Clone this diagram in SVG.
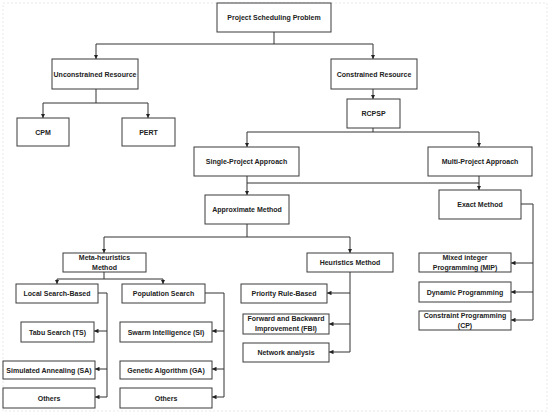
<svg xmlns="http://www.w3.org/2000/svg" width="550" height="414" viewBox="0 0 550 414">
<defs>
<marker id="ah" viewBox="0 0 6 6" refX="6" refY="3" markerWidth="4.5" markerHeight="4.5" orient="auto" markerUnits="userSpaceOnUse">
<path d="M0,0 L6,3 L0,6 z" fill="#222"/>
</marker>
<style>
.b{fill:#fff;stroke:#3a3a3a;stroke-width:1}
.t{font-family:"Liberation Sans",Arial,sans-serif;font-weight:bold;font-size:7px;fill:#222;text-anchor:middle;dominant-baseline:central}
.c{fill:none;stroke:#333;stroke-width:1}
.a{fill:none;stroke:#333;stroke-width:1;marker-end:url(#ah)}
</style>
</defs>
<rect width="550" height="414" fill="#fff"/>
<rect x="3" y="3" width="544" height="408" fill="none" stroke="#e4e4e4" stroke-width="0.8" stroke-dasharray="2,2"/>
<g id="connectors">
<path class="c" d="M274,32 V44 M96,44 H373"/>
<path class="a" d="M96,44 V59"/>
<path class="a" d="M373,44 V59"/>
<path class="c" d="M96,89 V103 M43,103 H148"/>
<path class="a" d="M43,103 V118"/>
<path class="a" d="M148,103 V118"/>
<path class="a" d="M373,89 V99"/>
<path class="c" d="M373,128 V132 M247,132 H479"/>
<path class="a" d="M247,132 V147"/>
<path class="a" d="M479,132 V147"/>
<path class="c" d="M247,176 V183 M247,183 H479 M479,176 V183"/>
<path class="a" d="M247,183 V195"/>
<path class="a" d="M479,183 V190"/>
<path class="c" d="M247,224 V237 M104,237 H350"/>
<path class="a" d="M104,237 V253"/>
<path class="a" d="M350,237 V253"/>
<path class="c" d="M521,204 H533 V320"/>
<path class="a" d="M533,263 H511"/>
<path class="a" d="M533,292 H511"/>
<path class="a" d="M533,320 H511"/>
<path class="c" d="M104,272 V279 M57,279 H163"/>
<path class="a" d="M57,279 V284"/>
<path class="a" d="M163,279 V284"/>
<path class="c" d="M98,293 H107 V397"/>
<path class="a" d="M107,331 H94"/>
<path class="a" d="M107,369 H95"/>
<path class="a" d="M107,397 H95"/>
<path class="c" d="M205,293 H224 V397"/>
<path class="a" d="M224,331 H212"/>
<path class="a" d="M224,369 H212"/>
<path class="a" d="M224,397 H212"/>
<path class="c" d="M350,272 V352"/>
<path class="a" d="M350,293 H327"/>
<path class="a" d="M350,324 H329"/>
<path class="a" d="M350,352 H329"/>
</g>
<g id="psp"><rect class="b" x="217" y="3" width="114" height="29"/><text class="t" x="274" y="17.5">Project Scheduling Problem</text></g>
<g id="unconstrained"><rect class="b" x="52" y="59" width="86" height="30"/><text class="t" x="95" y="74">Unconstrained Resource</text></g>
<g id="constrained"><rect class="b" x="331" y="59" width="86" height="30"/><text class="t" x="374" y="74">Constrained Resource</text></g>
<g id="cpm"><rect class="b" x="17" y="118" width="52" height="28"/><text class="t" x="43" y="132">CPM</text></g>
<g id="pert"><rect class="b" x="122" y="118" width="53" height="28"/><text class="t" x="148.5" y="132">PERT</text></g>
<g id="rcpsp"><rect class="b" x="347" y="99" width="53" height="29"/><text class="t" x="373.5" y="113.5">RCPSP</text></g>
<g id="single"><rect class="b" x="194" y="147" width="105" height="29"/><text class="t" x="246.5" y="161.5">Single-Project Approach</text></g>
<g id="multi"><rect class="b" x="428" y="147" width="104" height="29"/><text class="t" x="480" y="161.5">Multi-Project Approach</text></g>
<g id="approx"><rect class="b" x="205" y="195" width="84" height="29"/><text class="t" x="247" y="209.5">Approximate Method</text></g>
<g id="exact"><rect class="b" x="439" y="190" width="82" height="29"/><text class="t" x="480" y="204.5">Exact Method</text></g>
<g id="meta"><rect class="b" x="63" y="253" width="83" height="19"/><text class="t" x="104.5" y="257.5">Meta-heuristics</text><text class="t" x="104.5" y="267.5">Method</text></g>
<g id="heur"><rect class="b" x="307" y="253" width="86" height="19"/><text class="t" x="350" y="262.5">Heuristics Method</text></g>
<g id="mip"><rect class="b" x="419" y="253" width="92" height="19"/><text class="t" x="465" y="257.5">Mixed integer</text><text class="t" x="465" y="267.5">Programming (MIP)</text></g>
<g id="dp"><rect class="b" x="419" y="282" width="92" height="20"/><text class="t" x="465" y="292">Dynamic Programming</text></g>
<g id="cp"><rect class="b" x="419" y="311" width="92" height="19"/><text class="t" x="465" y="315.5">Constraint Programming</text><text class="t" x="465" y="325.5">(CP)</text></g>
<g id="local"><rect class="b" x="16" y="284" width="82" height="19"/><text class="t" x="57" y="293.5">Local Search-Based</text></g>
<g id="pop"><rect class="b" x="122" y="284" width="83" height="19"/><text class="t" x="163.5" y="293.5">Population Search</text></g>
<g id="tabu"><rect class="b" x="21" y="322" width="73" height="20"/><text class="t" x="57.5" y="332">Tabu Search (TS)</text></g>
<g id="sa"><rect class="b" x="3" y="361" width="92" height="18"/><text class="t" x="49" y="370">Simulated Annealing (SA)</text></g>
<g id="others1"><rect class="b" x="3" y="388" width="92" height="20"/><text class="t" x="49" y="398">Others</text></g>
<g id="swarm"><rect class="b" x="120" y="322" width="92" height="20"/><text class="t" x="166" y="332">Swarm Intelligence (SI)</text></g>
<g id="ga"><rect class="b" x="120" y="361" width="92" height="18"/><text class="t" x="166" y="370">Genetic Algorithm (GA)</text></g>
<g id="others2"><rect class="b" x="120" y="388" width="92" height="20"/><text class="t" x="166" y="398">Others</text></g>
<g id="priority"><rect class="b" x="241" y="284" width="86" height="19"/><text class="t" x="284" y="293.5">Priority Rule-Based</text></g>
<g id="fbi"><rect class="b" x="243" y="314" width="86" height="20"/><text class="t" x="286" y="318.5">Forward and Backward</text><text class="t" x="286" y="328.5">Improvement (FBI)</text></g>
<g id="network"><rect class="b" x="243" y="343" width="86" height="19"/><text class="t" x="286" y="352.5">Network analysis</text></g>
</svg>
